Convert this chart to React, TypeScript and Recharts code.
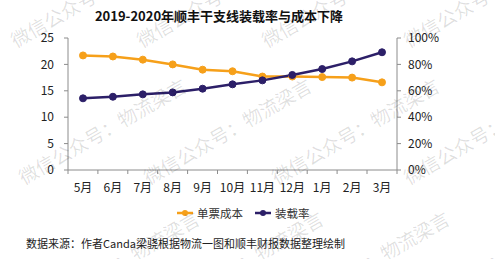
import React from "react";
import { Line, LineChart, XAxis, YAxis } from "recharts";

const months = ["5月", "6月", "7月", "8月", "9月", "10月", "11月", "12月", "1月", "2月", "3月"];
const unitCost = [21.7, 21.5, 20.9, 20.0, 19.0, 18.7, 17.7, 17.7, 17.6, 17.5, 16.6];
const loadRate = [54.3, 55.5, 57.3, 58.8, 61.6, 64.9, 67.9, 72.0, 76.5, 82.3, 89.2];
const leftTicks = [0, 5, 10, 15, 20, 25];
const rightTicks = [0, 20, 40, 60, 80, 100];
const seriesNames = ["单票成本", "装载率"];

const ORANGE = "#F6A01A";
const NAVY = "#2C1F68";
const AXIS = "#8c8c8c";
const FONT = "'Noto Sans CJK SC', 'Noto Sans', sans-serif";

const data = months.map((m, i) => ({ month: m, cost: unitCost[i], load: loadRate[i] }));

// watermark rows (start points of each repeated text)
const wmRows = [
  [17, 143, 268, 410],
  [25, 150, 278, 410],
  [38, 162, 288, 412],
];
const wmY = [50, 187, 320];

function MonthTick(props: any) {
  const { x, y, payload, index } = props;
  const half = 15;
  return (
    <g>
      <line x1={x - half} y1={y - 8} x2={x - half} y2={y - 4} stroke={AXIS} />
      {index === months.length - 1 && (
        <line x1={x + half} y1={y - 8} x2={x + half} y2={y - 4} stroke={AXIS} />
      )}
      <text x={x} y={y + 14} textAnchor="middle" fontSize={12} fill="#222" fontFamily={FONT}>
        {payload.value}
      </text>
    </g>
  );
}

function LegendIcon({ color }: { color: string }) {
  return (
    <svg width={16} height={8} style={{ marginRight: 4 }}>
      <line x1={0} y1={4} x2={16} y2={4} stroke={color} strokeWidth={2.5} />
      <circle cx={8} cy={4} r={3} fill={color} />
    </svg>
  );
}

export default function App() {
  const colors = [ORANGE, NAVY];
  return (
    <div style={{ position: "absolute", left: 0, top: 0, width: 495, height: 259, background: "#fff", overflow: "hidden" }}>
      <div
        style={{
          position: "absolute",
          left: 0,
          top: 6,
          width: 438,
          textAlign: "center",
          fontFamily: FONT,
          fontWeight: 700,
          fontSize: 13,
          color: "#111",
          whiteSpace: "nowrap",
        }}
      >
        2019-2020年顺丰干支线装载率与成本下降
      </div>
      <LineChart width={495} height={259} data={data} margin={{ top: 38, right: 0, left: 0, bottom: 59 }}>
        <XAxis
          dataKey="month"
          height={30}
          tickLine={false}
          tick={<MonthTick />}
          axisLine={{ stroke: AXIS }}
          interval={0}
          padding={{ left: 15, right: 15 }}
        />
        <YAxis
          yAxisId="left"
          width={68}
          domain={[0, 25]}
          ticks={leftTicks}
          tickSize={4}
          tickMargin={10}
          axisLine={{ stroke: AXIS }}
          tickLine={{ stroke: AXIS }}
          tick={{ fontSize: 12, fill: "#222", fontFamily: FONT }}
        />
        <YAxis
          yAxisId="right"
          orientation="right"
          width={98}
          domain={[0, 100]}
          ticks={rightTicks}
          tickSize={4}
          tickMargin={7}
          tickFormatter={(v: number) => `${v}%`}
          axisLine={{ stroke: AXIS }}
          tickLine={{ stroke: AXIS }}
          tick={{ fontSize: 12, fill: "#222", fontFamily: FONT, textAnchor: "start" }}
        />
        <Line
          yAxisId="left"
          dataKey="cost"
          name={seriesNames[0]}
          stroke={ORANGE}
          strokeWidth={2.5}
          dot={{ r: 3.5, fill: ORANGE, stroke: ORANGE, strokeWidth: 1 }}
          isAnimationActive={false}
        />
        <Line
          yAxisId="right"
          dataKey="load"
          name={seriesNames[1]}
          stroke={NAVY}
          strokeWidth={2.5}
          dot={{ r: 3.5, fill: NAVY, stroke: NAVY, strokeWidth: 1 }}
          isAnimationActive={false}
        />
      </LineChart>
      <div
        style={{
          position: "absolute",
          left: 177,
          top: 205,
          display: "flex",
          fontFamily: FONT,
          fontSize: 11.5,
          color: "#333",
          whiteSpace: "nowrap",
        }}
      >
        {seriesNames.map((n, i) => (
          <div key={n} style={{ display: "flex", alignItems: "center", marginRight: 12 }}>
            <LegendIcon color={colors[i]} />
            <span>{n}</span>
          </div>
        ))}
      </div>
      <div
        style={{
          position: "absolute",
          left: 26,
          top: 235,
          fontFamily: FONT,
          fontSize: 11,
          color: "#222",
          whiteSpace: "nowrap",
        }}
      >
        数据来源：作者Canda梁骁根据物流一图和顺丰财报数据整理绘制
      </div>
      {wmRows.map((row, r) =>
        row.map((x, c) => (
          <div
            key={`${r}-${c}`}
            style={{
              position: "absolute",
              left: x,
              top: wmY[r] - 20,
              fontFamily: FONT,
              fontSize: 19,
              lineHeight: "20px",
              color: "rgba(0,0,0,0.13)",
              whiteSpace: "nowrap",
              transform: "rotate(-30deg)",
              transformOrigin: "0% 100%",
              pointerEvents: "none",
            }}
          >
            微信公众号：物流梁言
          </div>
        ))
      )}
    </div>
  );
}
